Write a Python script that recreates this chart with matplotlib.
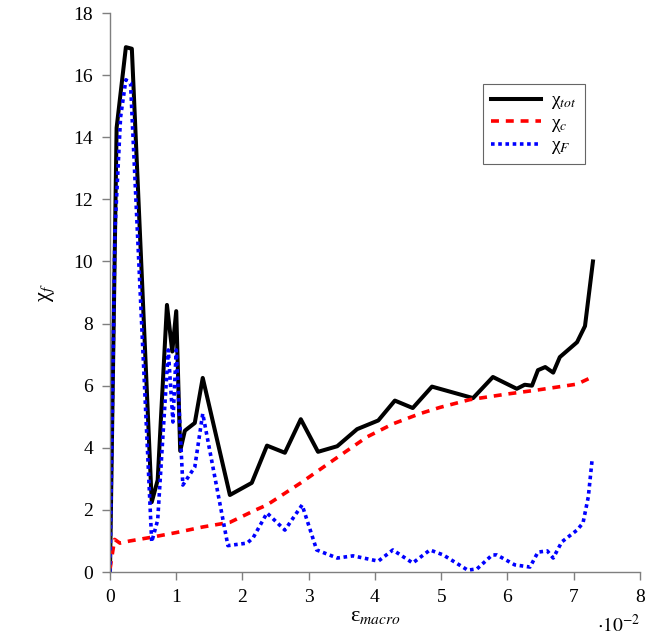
import matplotlib
matplotlib.use('Agg')
import matplotlib.pyplot as plt

plt.rcParams['font.family'] = 'Liberation Serif'
plt.rcParams['mathtext.fontset'] = 'stix'
plt.rcParams['font.size'] = 14

# strain values are in units of 1e-2
eps_tot = [0.0, 0.10, 0.24, 0.33, 0.63, 0.72, 0.86, 0.94, 1.00, 1.06, 1.13, 1.28, 1.40,
           1.81, 2.14, 2.37, 2.64, 2.88, 3.14, 3.43, 3.73, 4.05, 4.30, 4.57, 4.86,
           5.48, 5.78, 6.14, 6.26, 6.37, 6.46, 6.57, 6.69, 6.79, 7.05, 7.17, 7.29]
chi_tot = [0.0, 14.3, 16.9, 16.85, 2.25, 2.96, 8.6, 7.1, 8.4, 3.9, 4.55, 4.8, 6.25,
           2.48, 2.87, 4.07, 3.84, 4.92, 3.87, 4.05, 4.6, 4.88, 5.52, 5.28, 5.97,
           5.6, 6.28, 5.9, 6.03, 6.0, 6.5, 6.6, 6.42, 6.92, 7.4, 7.92, 10.0]

eps_c = [0.0, 0.07, 0.15, 0.30, 0.63, 1.00, 1.40, 1.81, 2.20, 2.37, 2.88, 3.37, 3.88,
         4.27, 4.68, 4.98, 5.43, 5.99, 6.45, 7.05, 7.28]
chi_c = [0.1, 1.05, 0.93, 1.0, 1.12, 1.27, 1.45, 1.6, 2.0, 2.16, 2.87, 3.6, 4.35,
         4.77, 5.1, 5.3, 5.55, 5.73, 5.86, 6.05, 6.28]

eps_F = [0.0, 0.075, 0.16, 0.24, 0.31, 0.63, 0.72, 0.88, 0.95, 1.00, 1.10, 1.28, 1.40,
         1.78, 2.07, 2.16, 2.37, 2.64, 2.90, 3.12, 3.43, 3.67, 4.05, 4.27, 4.57,
         4.83, 5.03, 5.40, 5.54, 5.77, 5.84, 6.11, 6.34, 6.46, 6.60, 6.69, 6.82,
         7.05, 7.14, 7.22, 7.28]
chi_F = [0.0, 11.0, 14.65, 15.85, 15.75, 0.97, 1.67, 7.15, 4.83, 7.15, 2.8, 3.38, 5.1,
         0.85, 0.93, 1.1, 1.9, 1.35, 2.16, 0.71, 0.45, 0.52, 0.35, 0.71, 0.29,
         0.71, 0.55, 0.06, 0.1, 0.55, 0.55, 0.23, 0.16, 0.64, 0.68, 0.45, 0.97,
         1.35, 1.58, 2.42, 3.67]

fig = plt.figure(figsize=(6.57, 6.35), dpi=100)
ax = fig.add_axes([0.1674, 0.0992, 0.8067, 0.8803])

ax.plot(eps_tot, chi_tot, color='black', lw=2.9, label='χ$_{tot}$')
ax.plot(eps_c, chi_c, color='red', lw=2.6, ls=(0, (2.2, 1.9)), label='χ$_{c}$')
ax.plot(eps_F, chi_F, color='blue', lw=2.6, ls=(0, (1.0, 1.0)), label='χ$_{F}$')

ax.set_xlim(0, 8)
ax.set_ylim(0, 18)
ax.set_xticks(range(0, 9))
ax.set_yticks(range(0, 19, 2))
for side in ['top', 'right']:
    ax.spines[side].set_visible(False)
for side in ['left', 'bottom']:
    ax.spines[side].set_color('#7f7f7f')
    ax.spines[side].set_linewidth(1.0)
ax.tick_params(direction='out', length=6, width=1.0, color='#7f7f7f', pad=6)

ax.set_xlabel('ε$_{macro}$', labelpad=1, fontsize=16)
ax.set_ylabel('χ$_{f}$', labelpad=12, fontsize=16)
ax.text(1.0, -0.075, r'$\cdot 10^{-2}$', transform=ax.transAxes, ha='right', va='top', fontsize=14)

leg = ax.legend(loc='upper left', bbox_to_anchor=(0.704, 0.873), borderaxespad=0,
                fancybox=False, fontsize=14, handlelength=2.6, labelspacing=0.15,
                handletextpad=0.5, borderpad=0.4)
leg.get_frame().set_edgecolor('#404040')
leg.get_frame().set_linewidth(0.8)

fig.savefig('out.png', dpi=100)
